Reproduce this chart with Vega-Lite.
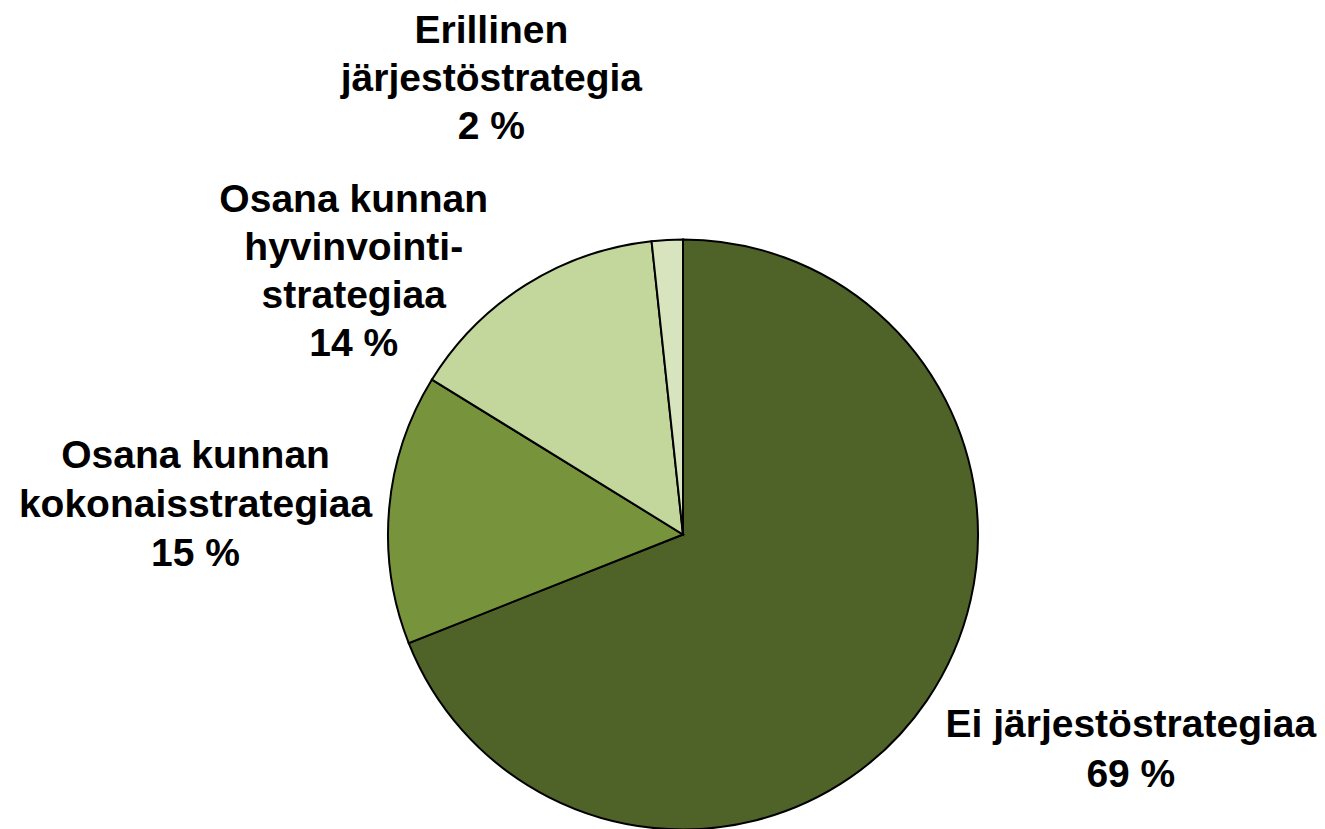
{
  "$schema": "https://vega.github.io/schema/vega-lite/v6.json",
  "autosize": "none",
  "width": 590,
  "height": 589,
  "padding": {"left": 388, "top": 240, "right": 347, "bottom": 0},
  "background": "white",
  "config": {"view": {"stroke": null}},
  "data": {
    "values": [
      {"category": "Ei järjestöstrategiaa", "value": 69.0, "order": 1, "label": "Ei järjestöstrategiaa\n69 %"},
      {"category": "Osana kunnan kokonaisstrategiaa", "value": 14.8, "order": 2, "label": "Osana kunnan\nkokonaisstrategiaa\n15 %"},
      {"category": "Osana kunnan hyvinvointistrategiaa", "value": 14.5, "order": 3, "label": "Osana kunnan\nhyvinvointi-\nstrategiaa\n14 %"},
      {"category": "Erillinen järjestöstrategia", "value": 1.7, "order": 4, "label": "Erillinen\njärjestöstrategia\n2 %"}
    ]
  },
  "encoding": {
    "theta": {"field": "value", "type": "quantitative", "stack": true, "scale": {"type": "linear", "domain": [0, 100], "range": [0, 6.283185307179586]}},
    "order": {"field": "order", "type": "quantitative"},
    "detail": {"field": "category", "type": "nominal"}
  },
  "layer": [
    {
      "mark": {"type": "arc", "outerRadius": 295, "stroke": "#000000", "strokeWidth": 2},
      "encoding": {
        "color": {
          "field": "category", "type": "nominal", "legend": null,
          "scale": {
            "domain": ["Ei järjestöstrategiaa", "Osana kunnan kokonaisstrategiaa", "Osana kunnan hyvinvointistrategiaa", "Erillinen järjestöstrategia"],
            "range": ["#4F6228", "#77933C", "#C3D69B", "#D7E4BD"]
          }
        }
      }
    },
    {
      "mark": {"type": "text", "radius": 400, "dx": 117, "dy": -22, "align": "center", "baseline": "alphabetic", "lineBreak": "\n", "lineHeight": 50, "font": "Liberation Sans", "fontWeight": "bold", "fontSize": 39, "color": "#000000"},
      "encoding": {"text": {"condition": {"test": "datum.category === 'Ei järjestöstrategiaa'", "field": "label"}, "value": ""}}
    },
    {
      "mark": {"type": "text", "radius": 400, "dx": -89, "dy": -31, "align": "center", "baseline": "alphabetic", "lineBreak": "\n", "lineHeight": 49, "font": "Liberation Sans", "fontWeight": "bold", "fontSize": 39, "color": "#000000"},
      "encoding": {"text": {"condition": {"test": "datum.category === 'Osana kunnan kokonaisstrategiaa'", "field": "label"}, "value": ""}}
    },
    {
      "mark": {"type": "text", "radius": 400, "dx": -116, "dy": 16, "align": "center", "baseline": "alphabetic", "lineBreak": "\n", "lineHeight": 48, "font": "Liberation Sans", "fontWeight": "bold", "fontSize": 39, "color": "#000000"},
      "encoding": {"text": {"condition": {"test": "datum.category === 'Osana kunnan hyvinvointistrategiaa'", "field": "label"}, "value": ""}}
    },
    {
      "mark": {"type": "text", "radius": 480, "dx": -166, "dy": -12, "align": "center", "baseline": "alphabetic", "lineBreak": "\n", "lineHeight": 48, "font": "Liberation Sans", "fontWeight": "bold", "fontSize": 39, "color": "#000000"},
      "encoding": {"text": {"condition": {"test": "datum.category === 'Erillinen järjestöstrategia'", "field": "label"}, "value": ""}}
    }
  ]
}
